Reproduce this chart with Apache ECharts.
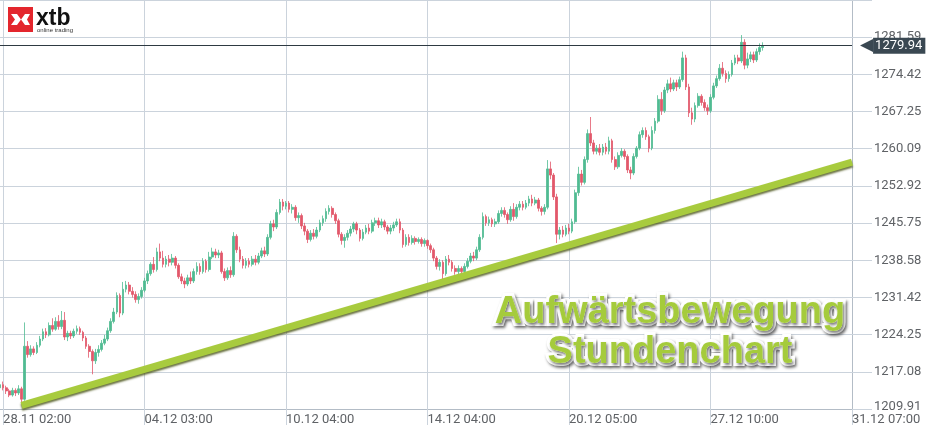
<!DOCTYPE html>
<html><head><meta charset="utf-8">
<style>html,body{margin:0;padding:0;background:#fff;}#chart{width:928px;height:434px;}</style>
<script src="https://cdn.jsdelivr.net/npm/echarts@6/dist/echarts.min.js"></script>
</head><body><div id="chart"></div>
<script>
// ---- data ----
const xTickLabels = ['28.11 02:00','04.12 03:00','10.12 04:00','14.12 04:00','20.12 05:00','27.12 10:00','31.12 07:00'];
const firstTickIndex = 1;
const tickStep = 46;
const categoryCount = 278;
const yTickLabels = ['1209.91','1217.08','1224.25','1231.42','1238.58','1245.75','1252.92','1260.09','1267.25','1274.42','1281.59'];
const yMin = 1209.91;
const yStep = 7.168;
const yMax = yMin + 11 * yStep;
const lastPrice = 1279.94;
const trendLine = [[7, 1210.6], [277, 1257.5]];
const chartTitle = 'Aufwärtsbewegung\nStundenchart';
// [open, close, low, high]
const ohlc = [
[1214.0,1214.6,1213.6,1215.0],[1214.6,1214.0,1213.5,1215.2],[1214.0,1213.4,1212.8,1214.4],[1213.4,1212.6,1212.2,1213.8],
[1212.6,1213.5,1212.3,1214.0],[1213.5,1213.0,1212.4,1213.9],[1213.0,1213.8,1212.6,1214.5],[1213.8,1211.8,1210.8,1214.2],
[1211.8,1222.0,1211.5,1226.6],[1222.0,1220.4,1219.8,1223.0],[1220.4,1221.5,1220.0,1222.2],[1221.5,1220.8,1220.3,1222.0],
[1220.8,1222.2,1220.5,1222.8],[1222.2,1223.4,1221.8,1224.0],[1223.4,1224.8,1223.0,1225.4],[1224.8,1224.2,1223.6,1225.5],
[1224.2,1226.0,1223.9,1226.6],[1226.0,1225.3,1224.8,1227.4],[1225.3,1226.8,1225.0,1227.6],[1226.8,1225.8,1225.2,1228.0],
[1225.8,1227.0,1225.3,1228.8],[1227.0,1223.8,1223.2,1228.6],[1223.8,1224.5,1223.0,1225.0],[1224.5,1224.0,1223.4,1225.0],
[1224.0,1224.9,1223.6,1225.4],[1224.9,1225.4,1224.4,1226.0],[1225.4,1224.7,1224.2,1225.8],[1224.7,1223.6,1223.0,1225.0],
[1223.6,1222.0,1221.5,1224.0],[1222.0,1221.0,1219.8,1222.4],[1221.0,1219.2,1216.6,1221.4],[1219.2,1220.8,1218.6,1221.5],
[1220.8,1221.4,1220.0,1222.2],[1221.4,1222.6,1221.0,1223.2],[1222.6,1223.4,1222.2,1224.2],[1223.4,1225.0,1223.0,1225.6],
[1225.0,1226.8,1224.6,1227.4],[1226.8,1228.6,1226.4,1229.4],[1228.6,1231.8,1228.2,1232.4],[1231.8,1228.4,1227.6,1232.2],
[1228.4,1233.0,1228.0,1234.4],[1233.0,1233.8,1232.4,1234.6],[1233.8,1232.6,1232.0,1234.4],[1232.6,1232.0,1231.4,1233.4],
[1232.0,1231.0,1230.4,1232.6],[1231.0,1231.6,1230.2,1232.2],[1231.6,1232.8,1231.2,1233.4],[1232.8,1234.6,1232.4,1235.2],
[1234.6,1236.0,1234.0,1236.6],[1236.0,1237.8,1235.6,1238.2],[1237.8,1236.8,1236.2,1239.2],[1236.8,1240.2,1236.4,1241.0],
[1240.2,1239.0,1238.4,1241.8],[1239.0,1237.8,1237.2,1240.4],[1237.8,1238.8,1237.2,1239.4],[1238.8,1238.2,1237.4,1239.6],
[1238.2,1239.0,1237.6,1239.8],[1239.0,1237.6,1237.0,1239.4],[1237.6,1235.4,1235.0,1238.0],[1235.4,1234.6,1234.0,1236.0],
[1234.6,1234.0,1233.2,1235.2],[1234.0,1235.2,1233.6,1235.8],[1235.2,1234.6,1234.0,1236.4],[1234.6,1236.4,1234.2,1237.0],
[1236.4,1237.4,1235.8,1238.2],[1237.4,1236.4,1235.8,1238.0],[1236.4,1238.4,1236.0,1239.0],[1238.4,1236.8,1236.2,1238.8],
[1236.8,1239.2,1236.4,1240.2],[1239.2,1240.2,1238.8,1241.0],[1240.2,1239.6,1239.0,1240.8],[1239.6,1240.0,1239.0,1240.6],
[1240.0,1236.4,1236.0,1240.4],[1236.4,1235.2,1234.6,1237.0],[1235.2,1236.6,1234.8,1237.2],[1236.6,1235.8,1235.2,1237.4],
[1235.8,1243.2,1235.4,1244.0],[1243.2,1240.6,1240.0,1243.6],[1240.6,1238.8,1238.2,1241.2],[1238.8,1237.6,1237.0,1239.4],
[1237.6,1238.4,1237.0,1239.0],[1238.4,1237.8,1237.2,1239.0],[1237.8,1238.8,1237.4,1239.4],[1238.8,1238.2,1237.6,1239.6],
[1238.2,1239.4,1237.8,1240.0],[1239.4,1240.4,1239.0,1241.0],[1240.4,1239.8,1239.2,1241.2],[1239.8,1243.0,1239.4,1243.6],
[1243.0,1245.6,1242.6,1246.2],[1245.6,1245.0,1244.2,1246.4],[1245.0,1247.8,1244.6,1248.4],[1247.8,1249.8,1247.4,1250.4],
[1249.8,1249.0,1248.2,1250.4],[1249.0,1249.6,1248.4,1250.0],[1249.6,1248.4,1247.8,1250.0],[1248.4,1248.8,1247.6,1249.4],
[1248.8,1246.8,1246.2,1249.2],[1246.8,1247.2,1245.8,1247.8],[1247.2,1245.2,1244.6,1247.6],[1245.2,1244.2,1243.4,1245.8],
[1244.2,1242.6,1241.9,1244.6],[1242.6,1243.8,1242.2,1244.4],[1243.8,1243.2,1242.6,1244.6],[1243.2,1244.4,1242.8,1245.0],
[1244.4,1245.8,1244.0,1246.4],[1245.8,1246.6,1245.2,1247.2],[1246.6,1248.0,1246.0,1248.6],[1248.0,1248.6,1247.4,1249.2],
[1248.6,1247.4,1246.8,1249.0],[1247.4,1246.2,1245.6,1247.8],[1246.2,1243.6,1243.0,1246.6],[1243.6,1242.4,1241.6,1244.0],
[1242.4,1243.0,1241.0,1243.6],[1243.0,1243.8,1242.4,1244.4],[1243.8,1244.6,1243.2,1245.2],[1244.6,1245.6,1244.0,1246.0],
[1245.6,1244.4,1243.6,1246.0],[1244.4,1242.8,1242.2,1244.8],[1242.8,1244.0,1242.4,1244.6],[1244.0,1244.8,1243.6,1245.4],
[1244.8,1244.2,1243.6,1245.6],[1244.2,1245.8,1243.8,1246.4],[1245.8,1246.2,1245.2,1246.8],[1246.2,1245.4,1244.8,1246.8],
[1245.4,1246.0,1244.8,1246.6],[1246.0,1245.0,1244.4,1246.4],[1245.0,1244.2,1243.6,1245.4],[1244.2,1244.8,1243.6,1245.4],
[1244.8,1245.4,1244.2,1246.0],[1245.4,1246.0,1245.0,1246.6],[1246.0,1244.4,1243.8,1246.6],[1244.4,1241.6,1241.0,1244.8],
[1241.6,1243.0,1241.2,1243.6],[1243.0,1242.0,1241.4,1243.6],[1242.0,1242.8,1241.6,1243.4],[1242.8,1242.2,1241.6,1243.2],
[1242.2,1242.6,1241.8,1243.0],[1242.6,1241.8,1241.2,1243.0],[1241.8,1242.4,1241.2,1242.8],[1242.4,1241.4,1240.8,1242.6],
[1241.4,1240.6,1240.0,1241.8],[1240.6,1239.0,1238.4,1241.0],[1239.0,1237.4,1236.8,1239.4],[1237.4,1238.2,1236.6,1238.8],
[1238.2,1236.0,1234.6,1238.6],[1236.0,1238.8,1235.6,1239.4],[1238.8,1238.2,1237.6,1239.6],[1238.2,1237.0,1236.4,1238.6],
[1237.0,1236.4,1235.8,1237.6],[1236.4,1237.0,1235.8,1237.6],[1237.0,1236.4,1235.6,1237.4],[1236.4,1237.4,1236.0,1238.0],
[1237.4,1238.4,1237.0,1239.0],[1238.4,1239.4,1238.0,1240.0],[1239.4,1239.0,1238.4,1240.2],[1239.0,1240.6,1238.6,1241.2],
[1240.6,1243.0,1240.2,1243.6],[1243.0,1247.0,1242.6,1247.8],[1247.0,1245.8,1245.2,1247.4],[1245.8,1246.4,1245.2,1247.0],
[1246.4,1245.6,1245.0,1246.8],[1245.6,1246.0,1245.0,1246.6],[1246.0,1247.6,1245.6,1248.2],[1247.6,1248.2,1247.0,1248.8],
[1248.2,1247.4,1246.8,1248.8],[1247.4,1246.4,1245.6,1247.8],[1246.4,1248.4,1246.0,1249.0],[1248.4,1247.0,1246.2,1249.6],
[1247.0,1248.8,1246.6,1249.4],[1248.8,1249.4,1248.2,1250.0],[1249.4,1248.8,1248.2,1250.0],[1248.8,1249.6,1248.4,1250.2],
[1249.6,1250.4,1249.0,1251.0],[1250.4,1249.6,1249.0,1251.2],[1249.6,1250.2,1249.2,1250.8],[1250.2,1248.6,1248.0,1250.6],
[1248.6,1248.0,1247.2,1249.0],[1248.0,1248.8,1247.4,1249.4],[1248.8,1256.2,1248.4,1257.9],[1256.2,1255.0,1254.2,1257.6],
[1255.0,1250.8,1250.2,1255.4],[1250.8,1243.6,1241.9,1251.4],[1243.6,1244.4,1242.6,1245.0],[1244.4,1243.6,1243.0,1245.2],
[1243.6,1244.8,1243.2,1245.4],[1244.8,1244.2,1243.6,1245.6],[1244.2,1246.0,1243.8,1246.6],[1246.0,1251.6,1245.6,1252.2],
[1251.6,1255.2,1251.0,1256.6],[1255.2,1253.6,1253.0,1256.0],[1253.6,1258.0,1253.2,1258.6],[1258.0,1263.0,1257.4,1263.8],
[1263.0,1261.2,1260.6,1266.2],[1261.2,1259.6,1259.0,1261.8],[1259.6,1260.2,1259.0,1260.8],[1260.2,1259.4,1258.8,1261.0],
[1259.4,1260.4,1258.8,1261.0],[1260.4,1259.6,1259.0,1261.2],[1259.6,1261.6,1259.0,1262.4],[1261.6,1258.0,1257.4,1262.0],
[1258.0,1256.6,1256.0,1258.6],[1256.6,1258.8,1256.2,1259.4],[1258.8,1259.6,1258.4,1260.2],[1259.6,1258.6,1258.0,1260.0],
[1258.6,1256.0,1255.4,1259.0],[1256.0,1255.4,1254.2,1256.6],[1255.4,1258.6,1255.0,1259.2],[1258.6,1260.2,1258.2,1260.6],
[1260.2,1262.8,1259.8,1263.4],[1262.8,1263.6,1262.2,1264.2],[1263.6,1262.4,1261.8,1264.2],[1262.4,1260.2,1259.4,1262.8],
[1260.2,1263.6,1259.8,1264.4],[1263.6,1265.4,1263.0,1266.0],[1265.4,1269.6,1265.0,1270.4],[1269.6,1267.4,1266.6,1271.0],
[1267.4,1271.4,1267.0,1272.0],[1271.4,1272.6,1270.8,1273.4],[1272.6,1271.6,1271.0,1273.8],[1271.6,1272.8,1271.2,1273.4],
[1272.8,1272.0,1271.2,1273.4],[1272.0,1273.4,1271.6,1274.0],[1273.4,1277.6,1273.0,1278.8],[1277.6,1272.0,1271.4,1278.2],
[1272.0,1267.0,1266.2,1272.6],[1267.0,1265.8,1264.7,1268.0],[1265.8,1268.4,1265.2,1269.0],[1268.4,1270.2,1268.0,1270.8],
[1270.2,1269.0,1268.4,1270.6],[1269.0,1268.0,1267.4,1269.6],[1268.0,1267.4,1266.6,1268.6],[1267.4,1270.0,1267.0,1270.6],
[1270.0,1272.2,1269.6,1272.8],[1272.2,1273.6,1271.8,1274.2],[1273.6,1275.6,1273.2,1276.4],[1275.6,1274.6,1274.0,1276.8],
[1274.6,1273.6,1272.8,1275.2],[1273.6,1274.4,1273.0,1275.0],[1274.4,1276.6,1274.0,1277.2],[1276.6,1277.6,1276.2,1278.2],
[1277.6,1277.0,1276.4,1278.2],[1277.0,1280.6,1276.6,1282.0],[1280.6,1276.2,1275.4,1281.2],[1276.2,1277.4,1275.6,1278.6],
[1277.4,1278.2,1276.8,1278.8],[1278.2,1277.2,1276.6,1278.8],[1277.2,1278.8,1276.8,1279.4],[1278.8,1279.6,1278.2,1280.4],
[1279.6,1279.94,1279.0,1280.6]
];

// ---- chart ----
const categories = [];
for (let i = 0; i < categoryCount; i++) categories.push('c' + i);
const isTick = (i) => i >= firstTickIndex && (i - firstTickIndex) % tickStep === 0;
const gridColor = '#cbd3dc';
const axisColor = '#b3bcc6';
const labelColor = '#5f6266';
const UP = '#50bb92', DOWN = '#e2586b';
const titleFont = 'bold 38px "Liberation Sans", Arial, sans-serif';

const chart = echarts.init(document.getElementById('chart'), null, {renderer: 'canvas'});
chart.setOption({
  animation: false,
  backgroundColor: '#ffffff',
  grid: {left: 0, right: 76, top: 0, bottom: 25, containLabel: false, outerBoundsMode: 'none'},
  xAxis: {
    type: 'category', data: categories, boundaryGap: false,
    axisLine: {show: true, lineStyle: {color: axisColor, width: 1}},
    axisTick: {show: true, length: 16, interval: (i) => isTick(i), lineStyle: {color: gridColor}},
    axisLabel: {
      interval: (i) => isTick(i), align: 'left', margin: 4, color: labelColor, fontSize: 13, fontFamily: 'Roboto',
      formatter: (v, i) => isTick(i) ? (xTickLabels[(i - firstTickIndex) / tickStep] || '') : ''
    },
    splitLine: {show: true, interval: (i) => isTick(i), lineStyle: {color: gridColor, width: 1}}
  },
  yAxis: {
    type: 'value', position: 'right', min: yMin, max: yMax, interval: yStep, scale: true,
    axisLine: {show: true, lineStyle: {color: axisColor}},
    axisTick: {show: true, length: 20, lineStyle: {color: gridColor}},
    axisLabel: {
      margin: 22, color: labelColor, fontSize: 13, fontFamily: 'Roboto',
      formatter: (v) => {
        const k = Math.round((v - yMin) / yStep);
        const t = yTickLabels[k];
        if (!t) return '';
        return k === 0 ? '{lo|' + t + '}' : t;
      },
      rich: {lo: {color: labelColor, fontSize: 13, fontFamily: 'Roboto', padding: [0, 0, 5, 0]}}
    },
    splitLine: {show: true, lineStyle: {color: gridColor, width: 1}}
  },
  series: [
    {
      type: 'candlestick', data: ohlc, barWidth: 2.2,
      itemStyle: {color: UP, color0: DOWN, borderColor: UP, borderColor0: DOWN, borderColorDoji: UP, borderWidth: 0.8},
      markLine: {
        silent: true, symbol: 'none', animation: false,
        data: [{yAxis: lastPrice}],
        lineStyle: {color: '#2e3a42', width: 1, type: 'solid'},
        label: {
          show: true, position: 'end', distance: 8,
          formatter: () => '{a|◀}{b|' + lastPrice.toFixed(2) + '}',
          rich: {
            a: {color: '#3a4852', fontSize: 17, fontFamily: 'DejaVu Sans', lineHeight: 16},
            b: {backgroundColor: '#3a4852', color: '#ffffff', fontSize: 13, fontFamily: 'Roboto', padding: [2, 3, 1, 2], lineHeight: 14}
          }
        }
      }
    },
    {
      type: 'line', data: trendLine, symbol: 'none', silent: true, z: 4,
      lineStyle: {color: '#a8cb3e', width: 7, cap: 'butt', shadowColor: 'rgba(70,80,20,0.8)', shadowBlur: 2, shadowOffsetY: 2}
    }
  ],
  graphic: [
    {type: 'rect', shape: {x: 8, y: 7, width: 25, height: 25}, style: {fill: '#e3262d'}, z: 100},
    {type: 'polygon', shape: {points: [[11,14],[17,14],[21,19.5],[17,25],[11,25],[15,19.5]]}, style: {fill: '#ffffff'}, z: 101},
    {type: 'polygon', shape: {points: [[30,14],[25,14],[21,19.5],[25,25],[30,25],[27,19.5]]}, style: {fill: '#ffffff'}, z: 101},
    {type: 'text', style: {text: 'xtb', x: 36, y: 19, font: 'bold 23px "Liberation Sans", Arial, sans-serif', fill: '#111111', verticalAlign: 'middle', align: 'left'}, z: 101},
    {type: 'text', style: {text: 'online trading', x: 37, y: 30.5, font: '6px "Liberation Sans", Arial, sans-serif', fill: '#333333', verticalAlign: 'middle', align: 'left'}, z: 101},
    // white outline + drop shadow (back layer)
    {type: 'text', style: {
      text: chartTitle, x: 670, y: 333, font: titleFont, lineHeight: 40,
      fill: '#ffffff', stroke: '#ffffff', lineWidth: 6, lineJoin: 'round', align: 'center', verticalAlign: 'middle',
      textShadowColor: 'rgba(0,0,0,0.55)', textShadowBlur: 3, textShadowOffsetX: 1.5, textShadowOffsetY: 2
    }, z: 49},
    // green fill (front layer)
    {type: 'text', style: {
      text: chartTitle, x: 670, y: 333, font: titleFont, lineHeight: 40,
      fill: '#a5cb3c', align: 'center', verticalAlign: 'middle'
    }, z: 50}
  ]
});
</script>
</body></html>
